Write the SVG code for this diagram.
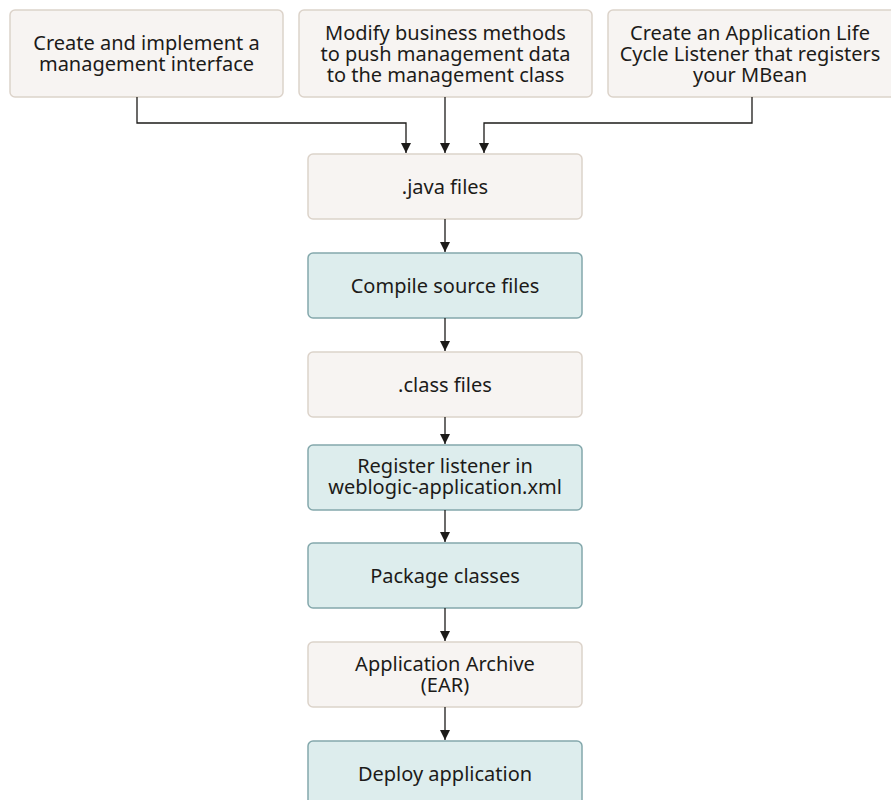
<svg xmlns="http://www.w3.org/2000/svg" width="891" height="800" viewBox="0 0 891 800">
<defs>
<style>
.b{fill:#f7f4f2;stroke:#dcd3ca;stroke-width:1.5}
.t{fill:#ddeded;stroke:#84a8ac;stroke-width:1.5}
text{font-family:"Noto Sans","Open Sans",sans-serif;font-size:20px;fill:#1c1b19;text-anchor:middle}
.c{fill:none;stroke:#1c1b19;stroke-width:1.3}
</style>
<marker id="a" viewBox="0 0 10 10" refX="10" refY="5" markerWidth="10" markerHeight="10" markerUnits="userSpaceOnUse" orient="auto">
<path d="M0,0 L10,5 L0,10 z" fill="#1c1b19"/>
</marker>
</defs>
<rect width="891" height="800" fill="#ffffff"/>
<g id="n1"><rect class="b" x="10" y="10" width="273" height="87" rx="5"/><text x="146.5" y="50">Create and implement a</text><text x="146.5" y="71">management interface</text></g>
<g id="n2"><rect class="b" x="299" y="10" width="293" height="87" rx="5"/><text x="445.5" y="40">Modify business methods</text><text x="445.5" y="61">to push management data</text><text x="445.5" y="82">to the management class</text></g>
<g id="n3"><rect class="b" x="608" y="10" width="290" height="87" rx="5"/><text x="750" y="40">Create an Application Life</text><text x="750" y="61">Cycle Listener that registers</text><text x="750" y="82">your MBean</text></g>
<g id="n4"><rect class="b" x="308" y="154" width="274" height="65" rx="5"/><text x="445" y="194">.java files</text></g>
<g id="n5"><rect class="t" x="308" y="253" width="274" height="65" rx="5"/><text x="445" y="293">Compile source files</text></g>
<g id="n6"><rect class="b" x="308" y="352" width="274" height="65" rx="5"/><text x="445" y="392">.class files</text></g>
<g id="n7"><rect class="t" x="308" y="445" width="274" height="65" rx="5"/><text x="445" y="473">Register listener in</text><text x="445" y="494">weblogic-application.xml</text></g>
<g id="n8"><rect class="t" x="308" y="543" width="274" height="65" rx="5"/><text x="445" y="583">Package classes</text></g>
<g id="n9"><rect class="b" x="308" y="642" width="274" height="65" rx="5"/><text x="445" y="671">Application Archive</text><text x="445" y="692">(EAR)</text></g>
<g id="n10"><rect class="t" x="308" y="741" width="274" height="65" rx="5"/><text x="445" y="781">Deploy application</text></g>
<g id="connectors">
<path class="c" d="M137,97 V123 H406 V153" marker-end="url(#a)"/>
<path class="c" d="M445,97 V153" marker-end="url(#a)"/>
<path class="c" d="M752,97 V123 H484 V153" marker-end="url(#a)"/>
<path class="c" d="M445,219 V252" marker-end="url(#a)"/>
<path class="c" d="M445,318 V351" marker-end="url(#a)"/>
<path class="c" d="M445,417 V444" marker-end="url(#a)"/>
<path class="c" d="M445,510 V542" marker-end="url(#a)"/>
<path class="c" d="M445,608 V641" marker-end="url(#a)"/>
<path class="c" d="M445,707 V740" marker-end="url(#a)"/>
</g>
</svg>
